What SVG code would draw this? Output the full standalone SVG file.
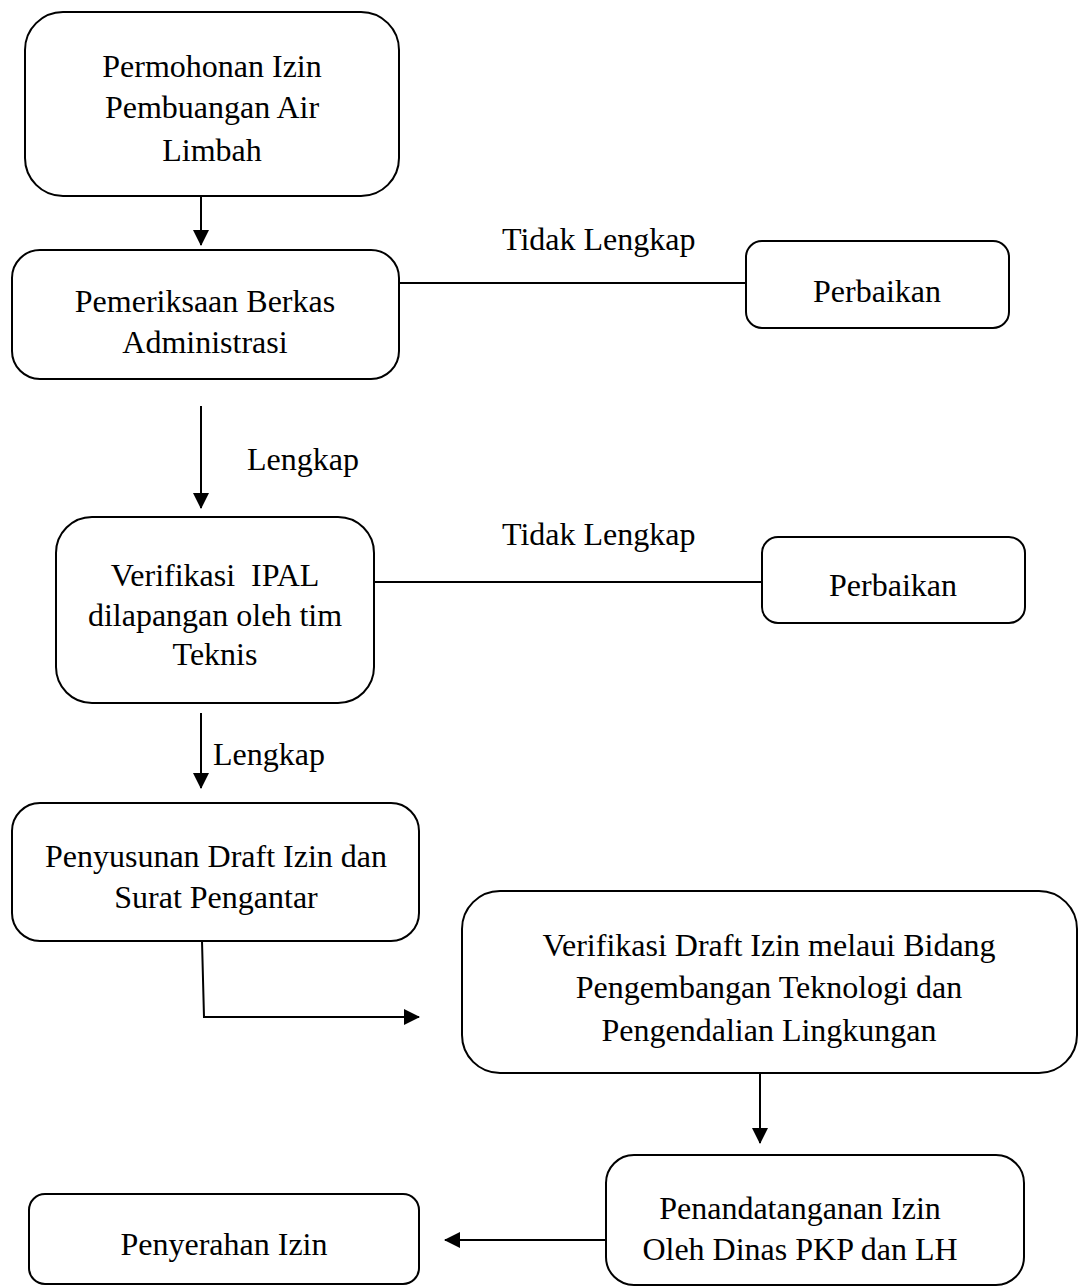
<svg xmlns="http://www.w3.org/2000/svg" width="1082" height="1287" viewBox="0 0 1082 1287">
<defs>
<marker id="arr" markerWidth="8" markerHeight="8" refX="7.5" refY="4" orient="auto" markerUnits="strokeWidth">
<path d="M0,0 L8,4 L0,8 Z" fill="#000"/>
</marker>
<style>
.box{fill:#fff;stroke:#000;stroke-width:2}
.t{font-family:"Liberation Serif","Times New Roman",serif;font-size:32px;fill:#000;text-anchor:middle}
.l{font-family:"Liberation Serif","Times New Roman",serif;font-size:32px;fill:#000}
.c{fill:none;stroke:#000;stroke-width:2}
</style>
</defs>
<rect width="1082" height="1287" fill="#fff"/>
<g id="connectors">
<line class="c" x1="201" y1="196" x2="201" y2="245" marker-end="url(#arr)"/>
<line class="c" x1="399" y1="283" x2="746" y2="283"/>
<line class="c" x1="201" y1="406" x2="201" y2="508" marker-end="url(#arr)"/>
<line class="c" x1="374" y1="582" x2="762" y2="582"/>
<line class="c" x1="201" y1="713" x2="201" y2="788" marker-end="url(#arr)"/>
<polyline class="c" points="202,941 204,1017 419,1017" marker-end="url(#arr)"/>
<line class="c" x1="760" y1="1073" x2="760" y2="1143" marker-end="url(#arr)"/>
<line class="c" x1="606" y1="1240" x2="445" y2="1240" marker-end="url(#arr)"/>
<text class="l" x="502" y="250">Tidak Lengkap</text>
<text class="l" x="247" y="470">Lengkap</text>
<text class="l" x="502" y="545">Tidak Lengkap</text>
<text class="l" x="213" y="765">Lengkap</text>
</g>
<g id="n1">
<rect class="box" x="25" y="12" width="374" height="184" rx="38"/>
<text class="t" x="212" y="77">Permohonan Izin</text>
<text class="t" x="212" y="118">Pembuangan Air</text>
<text class="t" x="212" y="161">Limbah</text>
</g>
<g id="n2">
<rect class="box" x="12" y="250" width="387" height="129" rx="28"/>
<text class="t" x="205" y="312">Pemeriksaan Berkas</text>
<text class="t" x="205" y="353">Administrasi</text>
</g>
<g id="n3">
<rect class="box" x="746" y="241" width="263" height="87" rx="16"/>
<text class="t" x="877" y="302">Perbaikan</text>
</g>
<g id="n4">
<rect class="box" x="56" y="517" width="318" height="186" rx="36"/>
<text class="t" x="215" y="586" xml:space="preserve">Verifikasi  IPAL</text>
<text class="t" x="215" y="626">dilapangan oleh tim</text>
<text class="t" x="215" y="665">Teknis</text>
</g>
<g id="n5">
<rect class="box" x="762" y="537" width="263" height="86" rx="16"/>
<text class="t" x="893" y="596">Perbaikan</text>
</g>
<g id="n6">
<rect class="box" x="12" y="803" width="407" height="138" rx="28"/>
<text class="t" x="216" y="867">Penyusunan Draft Izin dan</text>
<text class="t" x="216" y="908">Surat Pengantar</text>
</g>
<g id="n7">
<rect class="box" x="462" y="891" width="615" height="182" rx="38"/>
<text class="t" x="769" y="956">Verifikasi Draft Izin melaui Bidang</text>
<text class="t" x="769" y="998">Pengembangan Teknologi dan</text>
<text class="t" x="769" y="1041">Pengendalian Lingkungan</text>
</g>
<g id="n8">
<rect class="box" x="606" y="1155" width="418" height="130" rx="28"/>
<text class="t" x="800" y="1219">Penandatanganan Izin</text>
<text class="t" x="800" y="1260">Oleh Dinas PKP dan LH</text>
</g>
<g id="n9">
<rect class="box" x="29" y="1194" width="390" height="90" rx="16"/>
<text class="t" x="224" y="1255">Penyerahan Izin</text>
</g>
</svg>
